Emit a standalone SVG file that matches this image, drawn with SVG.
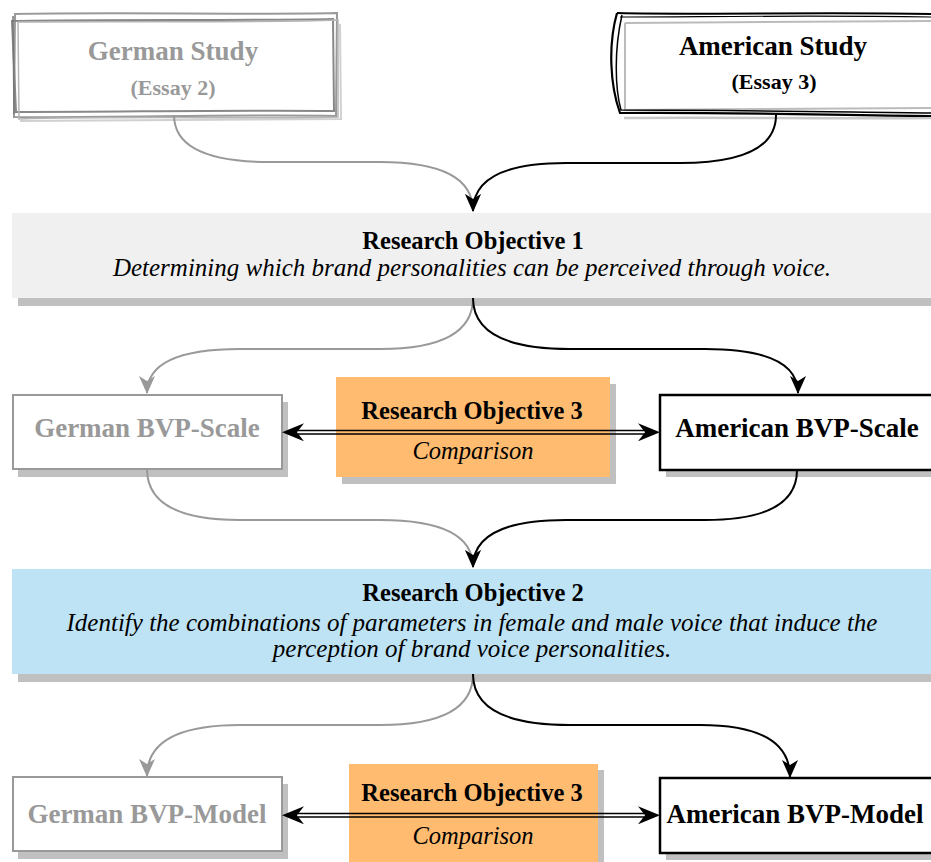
<svg xmlns="http://www.w3.org/2000/svg" width="931" height="862" viewBox="0 0 931 862">
  <defs>
    <marker id="headBlack" viewBox="0 0 18 16" refX="17" refY="8" markerWidth="18" markerHeight="16" markerUnits="userSpaceOnUse" orient="auto-start-reverse">
      <path d="M0,0 L18,8 L0,16 L5,8 Z" fill="#000"/>
    </marker>
    <marker id="headGray" viewBox="0 0 18 16" refX="17" refY="8" markerWidth="18" markerHeight="16" markerUnits="userSpaceOnUse" orient="auto-start-reverse">
      <path d="M0,0 L18,8 L0,16 L5,8 Z" fill="#999"/>
    </marker>
    <marker id="headBig" viewBox="0 0 22 18" refX="21" refY="9" markerWidth="22" markerHeight="18" markerUnits="userSpaceOnUse" orient="auto-start-reverse">
      <path d="M0,0 L22,9 L0,18 L7,9 Z" fill="#000"/>
    </marker>
  </defs>
  <style>
    .t{font-family:"Liberation Serif","Times New Roman",serif;text-anchor:middle}
    .title{font-size:27px;font-weight:bold}
    .essay{font-size:22px;font-weight:bold}
    .ro{font-size:24.5px;font-weight:bold;fill:#000}
    .desc{font-size:25px;font-style:italic;fill:#000}
    .cmp{font-size:24.5px;font-style:italic;fill:#000}
    .gray{fill:#999}
    .black{fill:#000}
    .shadow{fill:#c0c0c0}
    .cg{fill:none;stroke:#999;stroke-width:2}
    .cb{fill:none;stroke:#000;stroke-width:2}
    .dbl{fill:none;stroke:#000;stroke-width:1.5}
  </style>

  <rect width="931" height="862" fill="#fff"/>

  <!-- German study: hand-drawn frame -->
  <g id="german-study">
    <path d="M20,121 L341,119 L340,24" fill="none" stroke="#d0d0d0" stroke-width="2"/>
    <path d="M15,14 C120,12 250,15 337,13 L336,116 C240,114 110,118 14,117 Z" fill="#fff" stroke="#999" stroke-width="2"/>
    <path d="M12,21 C110,19 240,21 333,19 L334,111 C230,110 120,112 16,112 Z" fill="none" stroke="#888" stroke-width="2"/>
    <path d="M18,22 C130,21 260,23 338,20 L338,117 C250,119 120,116 19,119 Z" fill="none" stroke="#b5b5b5" stroke-width="1.5"/>
    <path d="M13,16 L14,114" fill="none" stroke="#777" stroke-width="1.5"/>
    <text class="t title gray" x="173" y="60">German Study</text>
    <text class="t essay gray" x="173" y="95">(Essay 2)</text>
  </g>

  <!-- American study: hand-drawn frame -->
  <g id="american-study">
    <path d="M624,118 C720,117 830,119 931,118" fill="none" stroke="#c8c8c8" stroke-width="2.5"/>
    <path d="M625,23 L931,21 M625,23 L625,110 L931,108" fill="none" stroke="#bbb" stroke-width="2"/>
    <path d="M617,13 C700,15 820,12 931,14" fill="none" stroke="#000" stroke-width="2"/>
    <path d="M617,13 C608,45 610,85 620,113 C720,112 830,115 931,116" fill="none" stroke="#000" stroke-width="2.2"/>
    <path d="M622,15 C614,50 615,88 621,110 C740,110 840,112 931,113" fill="none" stroke="#000" stroke-width="1.5"/>
    <path d="M620,17 C700,17 800,15 931,17" fill="none" stroke="#000" stroke-width="1.2"/>
    <text class="t title black" x="773" y="55">American Study</text>
    <text class="t essay black" x="774" y="89">(Essay 3)</text>
  </g>

  <!-- Research objective 1 -->
  <g id="objective-1">
    <rect class="shadow" x="18" y="221" width="913" height="85"/>
    <rect x="12" y="213" width="919" height="85" fill="#f0f0f0"/>
    <text class="t ro" x="473" y="249">Research Objective 1</text>
    <text class="t desc" x="472" y="276">Determining which brand personalities can be perceived through voice.</text>
  </g>

  <!-- Scale row -->
  <g id="german-scale">
    <rect class="shadow" x="18" y="402" width="270" height="75"/>
    <rect x="13" y="395" width="269" height="74" fill="#fff" stroke="#999" stroke-width="2"/>
    <text class="t title gray" x="147" y="437">German BVP-Scale</text>
  </g>

  <g id="comparison-scale">
    <rect class="shadow" x="342" y="384" width="274" height="100"/>
    <rect x="336" y="377" width="274" height="100" fill="#ffbb70"/>
    <text class="t ro" x="472" y="419">Research Objective 3</text>
    <text class="t cmp" x="473" y="459">Comparison</text>
  </g>

  <g id="american-scale">
    <rect class="shadow" x="666" y="402" width="265" height="75"/>
    <rect x="660" y="395" width="280" height="75" fill="#fff" stroke="#000" stroke-width="2.5"/>
    <text class="t title black" x="797" y="437">American BVP-Scale</text>
  </g>

  <!-- Research objective 2 -->
  <g id="objective-2">
    <rect class="shadow" x="18" y="577" width="913" height="105"/>
    <rect x="12" y="569" width="919" height="105" fill="#bee3f4"/>
    <text class="t ro" x="473" y="601">Research Objective 2</text>
    <text class="t desc" x="472" y="631">Identify the combinations of parameters in female and male voice that induce the</text>
    <text class="t desc" x="472" y="657">perception of brand voice personalities.</text>
  </g>

  <!-- Model row -->
  <g id="german-model">
    <rect class="shadow" x="18" y="784" width="270" height="75"/>
    <rect x="13" y="777" width="269" height="74" fill="#fff" stroke="#999" stroke-width="2"/>
    <text class="t title gray" x="147" y="823">German BVP-Model</text>
  </g>

  <g id="comparison-model">
    <rect class="shadow" x="355" y="770" width="249" height="100"/>
    <rect x="349" y="764" width="249" height="110" fill="#ffbb70"/>
    <text class="t ro" x="472" y="801">Research Objective 3</text>
    <text class="t cmp" x="473" y="844">Comparison</text>
  </g>

  <g id="american-model">
    <rect class="shadow" x="666" y="785" width="265" height="75"/>
    <rect x="660" y="778" width="280" height="75" fill="#fff" stroke="#000" stroke-width="2.5"/>
    <text class="t title black" x="795" y="823">American BVP-Model</text>
  </g>

  <!-- Connectors -->
  <g id="connectors">
    <path class="cg" d="M174,115 Q174,162 270,162 L380,162 Q473,162 473,211" marker-end="url(#headGray)"/>
    <path class="cb" d="M776,115 Q776,163 680,163 L566,163 Q473,163 473,211" marker-end="url(#headBlack)"/>

    <path class="cg" d="M473,298 Q473,349 380,349 L240,349 Q147,349 147,393" marker-end="url(#headGray)"/>
    <path class="cb" d="M473,298 Q473,349 570,349 L705,349 Q798,349 798,393" marker-end="url(#headBlack)"/>

    <path class="cg" d="M147,469 Q147,520 240,520 L380,520 Q473,520 473,567" marker-end="url(#headGray)"/>
    <path class="cb" d="M797,470 Q797,520 705,520 L566,520 Q473,520 473,567" marker-end="url(#headBlack)"/>

    <path class="cg" d="M473,674 Q473,725 380,725 L240,725 Q147,725 147,776" marker-end="url(#headGray)"/>
    <path class="cb" d="M473,674 Q473,725 570,725 L700,725 Q790,725 790,777" marker-end="url(#headBlack)"/>

    <!-- two-way comparison links, drawn as double lines -->
    <path class="dbl" d="M298,430.5 L644,430.5 M298,434 L644,434"/>
    <path d="M283,432.3 L659,432.3" fill="none" stroke="none" marker-start="url(#headBig)" marker-end="url(#headBig)"/>
    <path class="dbl" d="M298,813.5 L644,813.5 M298,817 L644,817"/>
    <path d="M283,815.3 L659,815.3" fill="none" stroke="none" marker-start="url(#headBig)" marker-end="url(#headBig)"/>
  </g>
</svg>
